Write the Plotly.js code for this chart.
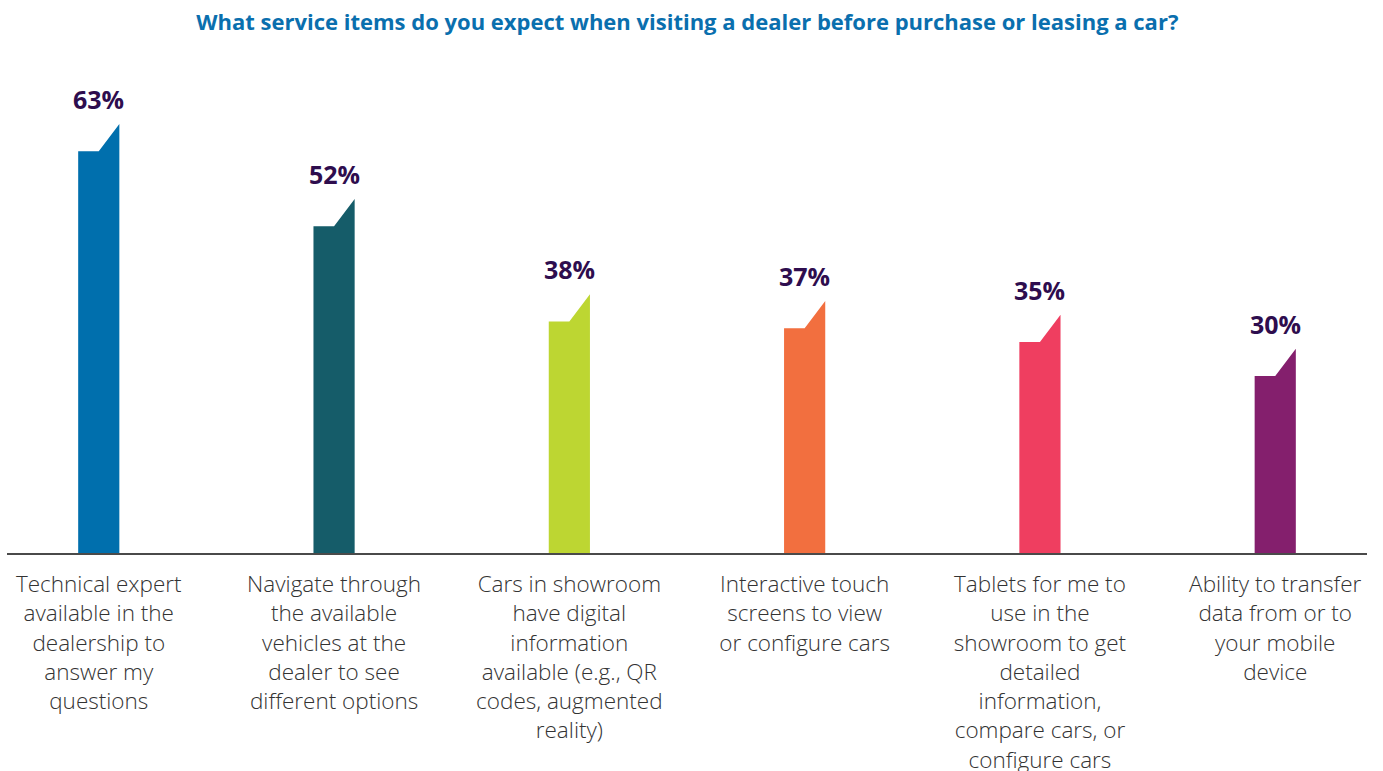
<!DOCTYPE html>
<html>
<head>
<meta charset="utf-8">
<script src="https://cdn.plot.ly/plotly-3.0.1.min.js"></script>
<style>html,body{margin:0;padding:0;background:#fff;}#chart{width:1383px;height:771px;}</style>
</head>
<body>
<div id="chart"></div>
<script>
const categories = [
  "Technical expert<br>available in the<br>dealership to<br>answer my<br>questions",
  "Navigate through<br>the available<br>vehicles at the<br>dealer to see<br>different options",
  "Cars in showroom<br>have digital<br>information<br>available (e.g., QR<br>codes, augmented<br>reality)",
  "Interactive touch<br>screens to view<br>or configure cars",
  "Tablets for me to<br>use in the<br>showroom to get<br>detailed<br>information,<br>compare cars, or<br>configure cars",
  "Ability to transfer<br>data from or to<br>your mobile<br>device"
];
const values = [63, 52, 38, 37, 35, 30];
const valueLabels = ["63%", "52%", "38%", "37%", "35%", "30%"];
const colors = ["#006fad", "#155c69", "#bdd632", "#f26f3f", "#ef3e60", "#841f6d"];

const halfW = 0.0875;   // half bar width in category units
const notch = 4;        // depth of the slanted flag top, in value units

const traces = values.map((v, i) => ({
  type: "scatter",
  mode: "lines",
  x: [i - halfW, i - halfW, i, i + halfW, i + halfW, i - halfW],
  y: [0, v - notch, v - notch, v, 0, 0],
  fill: "toself",
  fillcolor: colors[i],
  line: {width: 0, color: colors[i]},
  hoverinfo: "skip",
  showlegend: false
}));

const annotations = values.map((v, i) => ({
  x: i, y: v, xref: "x", yref: "y",
  text: valueLabels[i],
  showarrow: false,
  yanchor: "bottom",
  yshift: 6,
  font: {family: "Open Sans, sans-serif", size: 25, color: "#2e0d4e", weight: 700}
}));

const layout = {
  width: 1383, height: 771,
  paper_bgcolor: "#fff", plot_bgcolor: "#fff",
  margin: {l: 7, r: 16, t: 80, b: 218},
  title: {
    text: "What service items do you expect when visiting a dealer before purchase or leasing a car?",
    font: {family: "Open Sans, sans-serif", size: 22, color: "#0a6fae", weight: 700},
    x: 0.497, xanchor: "center", y: 1 - 22/771, yanchor: "middle", yref: "container"
  },
  xaxis: {
    range: [-0.39, 5.39],
    tickmode: "array",
    tickvals: [0, 1, 2, 3, 4, 5],
    ticktext: categories,
    ticks: "",
    ticklabelstandoff: 10,
    showgrid: false, zeroline: false,
    showline: true, linecolor: "#4a4a4a", linewidth: 2,
    tickfont: {family: "Open Sans, sans-serif", size: 22.5, color: "#333", weight: 300},
    fixedrange: true
  },
  yaxis: {
    range: [0, 69.46],
    showgrid: false, zeroline: false, showline: false,
    showticklabels: false, ticks: "",
    fixedrange: true
  },
  annotations: annotations,
  showlegend: false
};

Plotly.newPlot("chart", traces, layout, {displayModeBar: false, staticPlot: true});
</script>
</body>
</html>
